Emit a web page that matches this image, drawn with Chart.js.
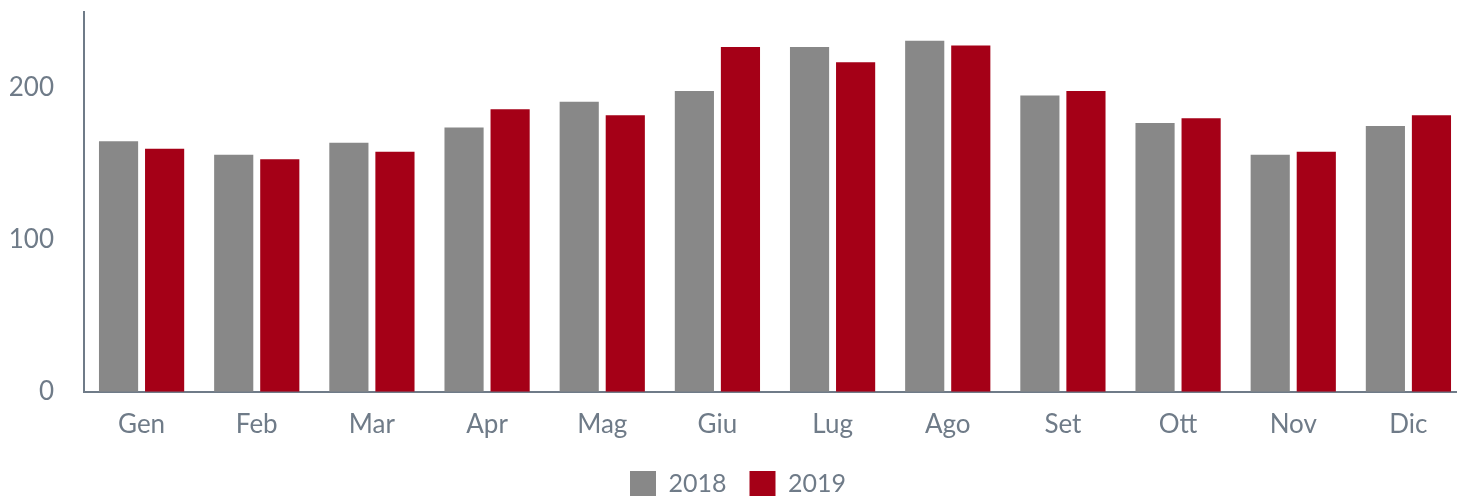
<!DOCTYPE html>
<html>
<head>
<meta charset="utf-8">
<script src="https://cdn.jsdelivr.net/npm/chart.js@4"></script>
<style>
  html, body { margin: 0; padding: 0; background: #ffffff; overflow: hidden; }
  #wrap { position: relative; width: 1466px; height: 507px; }
</style>
</head>
<body>
<div id="wrap"><canvas id="c"></canvas></div>
<script>
const categories = ['Gen', 'Feb', 'Mar', 'Apr', 'Mag', 'Giu', 'Lug', 'Ago', 'Set', 'Ott', 'Nov', 'Dic'];
const series2018 = [165, 156, 164, 174, 191, 198, 227, 231, 195, 177, 156, 175];
const series2019 = [160, 153, 158, 186, 182, 227, 217, 228, 198, 180, 158, 182];
const seriesNames = ['2018', '2019'];
const yTicks = [0, 100, 200];

const axisColor = '#6f7b88';
const textColor = '#6f7b88';
const fontFamily = 'Lato, "Noto Sans", sans-serif';

new Chart(document.getElementById('c'), {
  type: 'bar',
  data: {
    labels: categories,
    datasets: [
      { label: seriesNames[0], data: series2018, backgroundColor: '#888888', borderWidth: 0 },
      { label: seriesNames[1], data: series2019, backgroundColor: '#a50017', borderWidth: 0 }
    ]
  },
  options: {
    responsive: true,
    maintainAspectRatio: false,
    animation: false,
    categoryPercentage: 0.8,
    barPercentage: 0.85,
    layout: { padding: { top: 12, left: 10, right: 0, bottom: 0 } },
    plugins: {
      tooltip: { enabled: false },
      legend: {
        position: 'bottom',
        labels: {
          boxWidth: 26,
          boxHeight: 26,
          padding: 23,
          color: textColor,
          font: { family: fontFamily, size: 25 }
        }
      }
    },
    scales: {
      x: {
        grid: { display: false, drawTicks: false },
        border: { display: true, color: axisColor, width: 2 },
        afterFit: (axis) => { axis.height = axis.height - 9; axis.paddingLeft = 0; axis.paddingRight = 0; },
        ticks: { color: textColor, padding: 17, font: { family: fontFamily, size: 26 } }
      },
      y: {
        min: 0,
        max: 250,
        grid: { display: false, drawTicks: false },
        border: { display: true, color: axisColor, width: 2 },
        afterBuildTicks: (axis) => { axis.ticks = yTicks.map(v => ({ value: v })); },
        afterFit: (axis) => { axis.width = 74; axis.paddingTop = 0; axis.paddingBottom = 0; },
        ticks: { color: textColor, padding: 30, font: { family: fontFamily, size: 26 } }
      }
    }
  }
});
</script>
</body>
</html>
